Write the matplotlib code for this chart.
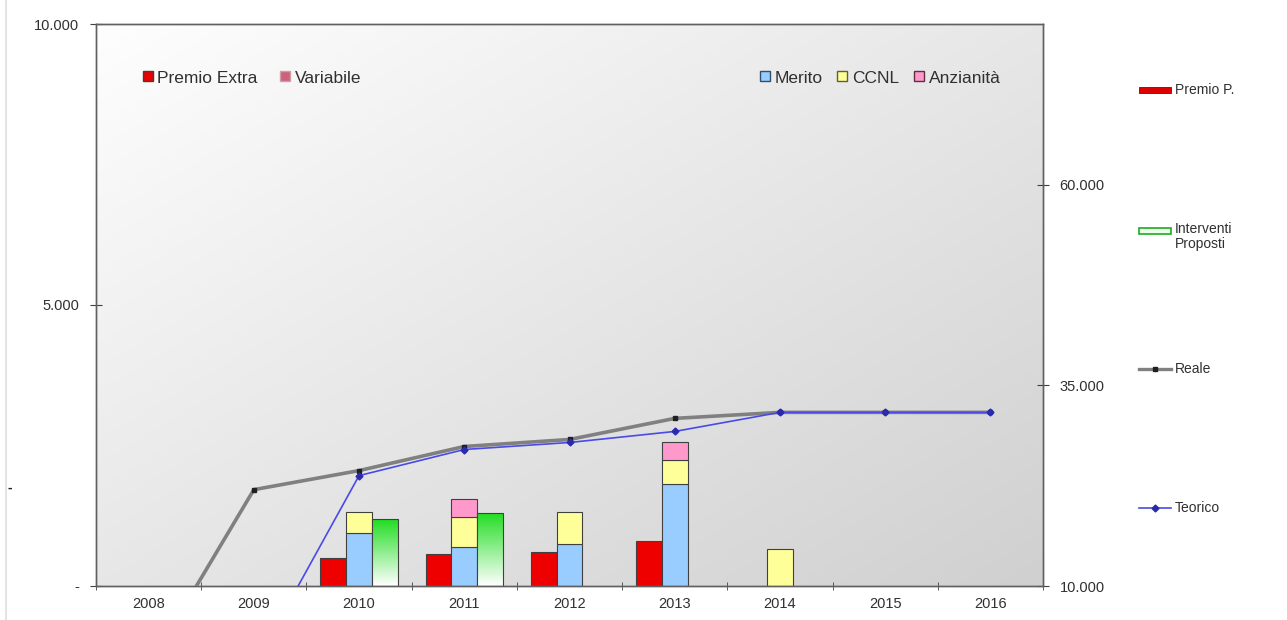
import numpy as np
import matplotlib
matplotlib.use("Agg")
import matplotlib.pyplot as plt
from matplotlib.lines import Line2D
from matplotlib.patches import Rectangle
from matplotlib.colors import LinearSegmentedColormap
from matplotlib.ticker import FuncFormatter, FixedLocator

plt.rcParams['font.family'] = ['Liberation Sans', 'DejaVu Sans']

# dati
anni = ['2008', '2009', '2010', '2011', '2012', '2013', '2014', '2015', '2016']
premio_extra = [0, 0, 500, 570, 600, 800, 0, 0, 0]
variabile = [0, 0, 0, 0, 0, 0, 0, 0, 0]
merito = [0, 0, 950, 700, 750, 1815, 0, 0, 0]
ccnl = [0, 0, 370, 530, 570, 425, 660, 0, 0]
anzianita = [0, 0, 0, 320, 0, 320, 0, 0, 0]
interventi = [0, 0, 1190, 1300, 0, 0, 0, 0, 0]
reale = [0, 22000, 24375, 27375, 28250, 30875, 31625, 31625, 31625]
teorico = [0, 0, 23750, 27000, 27875, 29250, 31625, 31625, 31625]

W, H = 1287, 620


def px(x, y):
    return x / W, 1 - y / H


def fmt_it(v, pos=None):
    if v == 0:
        return '-'
    return f'{v:,.0f}'.replace(',', '.')


fig = plt.figure(figsize=(W / 100, H / 100), dpi=100)
ax = fig.add_axes([96 / W, 34 / H, 947 / W, 562 / H])
ax2 = ax.twinx()

x = np.arange(len(anni))
bw = 0.245
edge = '#404040'
txt = '#303030'

# sfondo sfumato dell'area del grafico (chiaro in alto a sinistra)
g = np.add.outer(np.linspace(0, 1, 200), np.linspace(0, 1, 200)) / 2
bg_cmap = LinearSegmentedColormap.from_list('bg', ['#fefefe', '#d0d0d0'])
ax.imshow(g, extent=(0, 1, 0, 1), transform=ax.transAxes, aspect='auto',
          cmap=bg_cmap, origin='upper', zorder=0)


def bar_seg(pos, vals, bottom, color):
    vals = np.asarray(vals, float)
    bottom = np.asarray(bottom, float)
    m = vals > 0
    ax.bar(pos[m], vals[m], bw, bottom=bottom[m], color=color,
           edgecolor=edge, linewidth=0.8, zorder=2)


zero = np.zeros(len(anni))
bar_seg(x - bw, premio_extra, zero, '#ee0000')
bar_seg(x - bw, variabile, np.array(premio_extra), '#d0607a')
bar_seg(x, merito, zero, '#99ccff')
bar_seg(x, ccnl, np.array(merito), '#ffff99')
bar_seg(x, anzianita, np.array(merito) + np.array(ccnl), '#ff99cc')

# interventi proposti: barre con sfumatura verde
green_cmap = LinearSegmentedColormap.from_list('gr', ['#ffffff', '#22dd22'])
grad = np.linspace(0, 1, 100).reshape(-1, 1)
for xi, v in zip(x + bw, interventi):
    if v <= 0:
        continue
    rect = Rectangle((xi - bw / 2, 0), bw, v, facecolor='none',
                     edgecolor=edge, linewidth=0.8, zorder=3)
    ax.add_patch(rect)
    im = ax.imshow(grad, extent=(xi - bw / 2, xi + bw / 2, 0, v), origin='lower',
                   aspect='auto', cmap=green_cmap, zorder=2)
    im.set_clip_path(rect)

ax.set_xlim(-0.5, len(anni) - 0.5)
ax.set_ylim(0, 10000)
ax.set_yticks([0, 5000, 10000])
ax.yaxis.set_major_formatter(FuncFormatter(fmt_it))
ax.set_xticks(x)
ax.set_xticklabels(anni)
ax.xaxis.set_minor_locator(FixedLocator(np.arange(-0.5, len(anni), 1)))
ax.tick_params(axis='x', which='major', length=0, pad=8, labelsize=10.5, labelcolor=txt)
ax.tick_params(axis='x', which='minor', length=6, direction='inout', color=edge)
ax.tick_params(axis='y', length=8, direction='inout', color=edge, labelsize=10.5,
               labelcolor=txt, pad=8)

# linee sull'asse secondario
ax2.plot(x, reale, color='#808080', lw=2.6, marker='s', ms=3.5,
         mfc='#202020', mec='#202020', zorder=4)
ax2.plot(x, teorico, color='#4a4ae8', lw=1.2, marker='D', ms=3.5,
         mfc='#2a2ab0', mec='#2a2ab0', zorder=5)
ax2.set_ylim(10000, 80000)
ax2.set_yticks([10000, 35000, 60000])
ax2.yaxis.set_major_formatter(FuncFormatter(fmt_it))
ax2.tick_params(axis='y', length=8, direction='inout', color=edge, labelsize=10.5,
                labelcolor=txt, pad=8)

for a in (ax, ax2):
    for s in a.spines.values():
        s.set_color('#606060')
        s.set_linewidth(1.0)

# legende interne
leg_kw = dict(frameon=False, ncol=3, handletextpad=0.2, handlelength=0.7,
              fontsize=12.5, borderaxespad=0, borderpad=0, labelcolor=txt)
h1 = [Line2D([], [], ls='', marker='s', ms=7.5, mfc='#ee0000', mec=edge),
      Line2D([], [], ls='', marker='s', ms=7.5, mfc='#d0607a', mec='#c8a0a8')]
leg1 = ax2.legend(h1, ['Premio Extra', 'Variabile'], loc='center left',
                  bbox_to_anchor=(0.048, 0.904), columnspacing=1.25, **leg_kw)
ax2.add_artist(leg1)
h2 = [Line2D([], [], ls='', marker='s', ms=7.5, mfc='#99ccff', mec='#305070'),
      Line2D([], [], ls='', marker='s', ms=7.5, mfc='#ffff99', mec='#606030'),
      Line2D([], [], ls='', marker='s', ms=7.5, mfc='#ff99cc', mec='#603040')]
ax2.legend(h2, ['Merito', 'CCNL', 'Anzianità'], loc='center right',
           bbox_to_anchor=(0.955, 0.904), columnspacing=0.8, **leg_kw)

# legenda laterale
x0, x1, xt = 1139, 1171, 1175
fig.add_artist(Rectangle(px(x0, 93), (x1 - x0) / W, 6 / H, transform=fig.transFigure,
                         facecolor='#dd0000', edgecolor='#900000', lw=0.6))
fig.text(*px(xt, 90), 'Premio P.', fontsize=10, va='center', color=txt)
fig.add_artist(Rectangle(px(x0, 234), (x1 - x0) / W, 6 / H, transform=fig.transFigure,
                         facecolor='#eaffea', edgecolor='#22aa22', lw=1.2))
fig.text(*px(xt, 222), 'Interventi\nProposti', fontsize=10, va='top', color=txt,
         linespacing=1.1)
xs, ys = px(x0, 369)
xe, _ = px(x1, 369)
fig.add_artist(Line2D([xs, xe], [ys, ys], transform=fig.transFigure, color='#808080', lw=2.4))
fig.add_artist(Line2D([(xs + xe) / 2], [ys], transform=fig.transFigure, ls='',
                      marker='s', ms=3, color='#202020'))
fig.text(*px(xt, 369), 'Reale', fontsize=10, va='center', color=txt)
xs, ys = px(x0, 508)
fig.add_artist(Line2D([xs, xe], [ys, ys], transform=fig.transFigure, color='#4a4ae8', lw=1.2))
fig.add_artist(Line2D([(xs + xe) / 2], [ys], transform=fig.transFigure, ls='',
                      marker='D', ms=3.5, color='#2a2ab0'))
fig.text(*px(xt, 508), 'Teorico', fontsize=10, va='center', color=txt)

# bordo sinistro e trattino isolato
fig.add_artist(Line2D([6 / W, 6 / W], [0, 1], transform=fig.transFigure,
                      color='#e4e4e4', lw=1.5))
fig.text(*px(10, 488), '-', fontsize=10, va='center', ha='center',
         color='#202020', fontweight='bold')

fig.savefig('out.png', dpi=100)
